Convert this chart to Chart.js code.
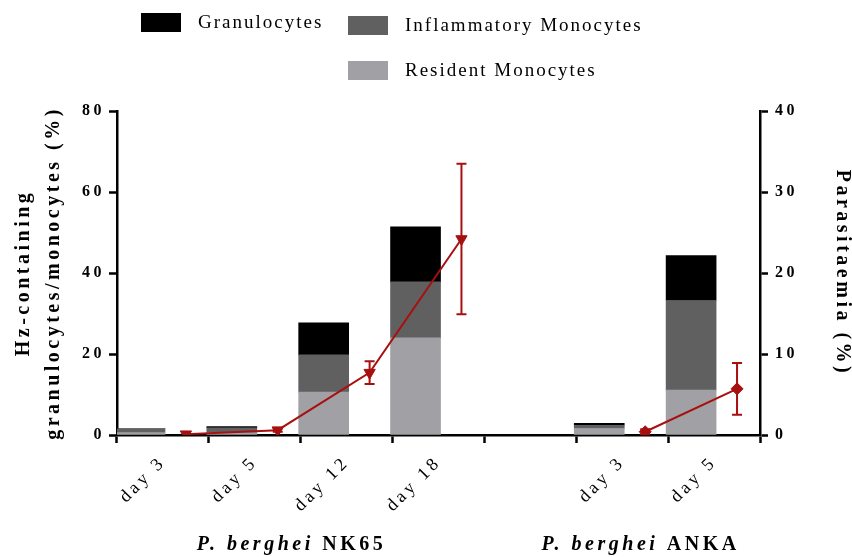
<!DOCTYPE html>
<html>
<head>
<meta charset="utf-8">
<script src="https://cdn.jsdelivr.net/npm/chart.js@4/dist/chart.umd.min.js"></script>
<style>
  html, body { margin: 0; padding: 0; background: #ffffff; }
  canvas { display: block; }
</style>
</head>
<body>
<canvas id="chart" width="852" height="557"></canvas>
<script>
// Sampling days per strain (index 4 is the spacer between the two strains)
const dayLabels = ['day 3', 'day 5', 'day 12', 'day 18', '', 'day 3', 'day 5'];

// Hz-containing cells, % of granulocytes/monocytes (stacked)
const residentMonocytes     = [0.6, 0.6, 10.6, 24.0, null, 1.6, 11.1];
const inflammatoryMonocytes = [0.9, 1.2,  9.2, 13.8, null, 0.8, 22.1];
const granulocytes          = [0.0, 0.25, 7.9, 13.6, null, 0.5, 11.1];

// Parasitaemia (%) mean and error
const parasitaemia    = [0.1, 0.6, 7.7, 24.2, null, 0.4, 5.7];
const parasitaemiaErr = [0.0, 0.2, 1.4,  9.3, null, 0.3, 3.2];

// Strain groups along the x axis, with the x value each strain name is centred on
const strainNames   = ['NK65', 'ANKA'];
const strainDays    = [[0, 1, 2, 3], [5, 6]];
const strainLabelAt = [1.4, 5.2];

const SERIF = 'Liberation Serif';
const RED = '#a80f0f';
const BAR_SHIFT = 0.25;   // bars sit left of each tick, parasitaemia points to the right

const barPoints = vals => vals.map((v, i) => ({ x: i - BAR_SHIFT, y: v }));
const linePoints = vals => vals.map((v, i) => ({ x: i + BAR_SHIFT, y: v }));
const isAnka = i => strainDays[1].includes(i);

// Wide letter spacing for every canvas text
const spacingPlugin = {
  id: 'spacing',
  beforeUpdate(chart) { chart.ctx.letterSpacing = '3.5px'; },
  beforeDraw(chart) { chart.ctx.letterSpacing = '3.5px'; }
};

// Vertical error bars for the parasitaemia series
const errorBarPlugin = {
  id: 'errorBars',
  afterDatasetsDraw(chart) {
    const idx = chart.data.datasets.findIndex(d => d.type === 'line');
    const meta = chart.getDatasetMeta(idx);
    const y2 = chart.scales.y2;
    const ctx = chart.ctx;
    ctx.save();
    ctx.strokeStyle = RED;
    ctx.lineWidth = 2;
    meta.data.forEach((pt, i) => {
      const v = parasitaemia[i], e = parasitaemiaErr[i];
      if (v == null || !e) return;
      const top = y2.getPixelForValue(v + e);
      const bot = y2.getPixelForValue(v - e);
      ctx.beginPath();
      ctx.moveTo(pt.x, top); ctx.lineTo(pt.x, bot);
      ctx.moveTo(pt.x - 5, top); ctx.lineTo(pt.x + 5, top);
      ctx.moveTo(pt.x - 5, bot); ctx.lineTo(pt.x + 5, bot);
      ctx.stroke();
    });
    ctx.restore();
  }
};

// Legend laid out as a two-column grid above the plot
const legendPlugin = {
  id: 'gridLegend',
  afterDraw(chart) {
    const items = [
      { ds: 2, x: 141, y: 13 },
      { ds: 1, x: 348, y: 16 },
      { ds: 0, x: 348, y: 61 }
    ];
    const ctx = chart.ctx;
    ctx.save();
    ctx.letterSpacing = '2px';
    ctx.font = '19px "' + SERIF + '"';
    ctx.textBaseline = 'middle';
    ctx.textAlign = 'left';
    items.forEach(it => {
      const ds = chart.data.datasets[it.ds];
      ctx.fillStyle = ds.backgroundColor;
      ctx.fillRect(it.x, it.y, 40, 19);
      ctx.fillStyle = '#000';
      ctx.fillText(ds.label, it.x + 57, it.y + 10);
    });
    ctx.restore();
  }
};

// Strain names under the day labels
const strainPlugin = {
  id: 'strainLabels',
  afterDraw(chart) {
    const x = chart.scales.x;
    const ctx = chart.ctx;
    ctx.save();
    ctx.letterSpacing = '3.5px';
    ctx.textBaseline = 'alphabetic';
    ctx.textAlign = 'left';
    ctx.fillStyle = '#000';
    const italic = 'italic bold 20px "' + SERIF + '"';
    const bold = 'bold 20px "' + SERIF + '"';
    strainNames.forEach((name, g) => {
      const cx = x.getPixelForValue(strainLabelAt[g]);
      const p1 = 'P. berghei ';
      ctx.font = italic; const w1 = ctx.measureText(p1).width;
      ctx.font = bold; const w2 = ctx.measureText(name).width;
      const sx = cx - (w1 + w2) / 2;
      ctx.font = italic; ctx.fillText(p1, sx, 550);
      ctx.font = bold; ctx.fillText(name, sx + w1, 550);
    });
    ctx.restore();
  }
};

const axisLine = { color: '#000', width: 2.5 };
const axisGrid = { drawOnChartArea: false, drawTicks: true, tickLength: 8, tickWidth: 2.5, tickColor: '#000' };

new Chart(document.getElementById('chart'), {
  type: 'bar',
  data: {
    datasets: [
      { label: 'Resident Monocytes', data: barPoints(residentMonocytes), backgroundColor: '#a1a0a5', stack: 'cells', yAxisID: 'y', order: 1, barThickness: 50 },
      { label: 'Inflammatory Monocytes', data: barPoints(inflammatoryMonocytes), backgroundColor: '#606060', stack: 'cells', yAxisID: 'y', order: 1, barThickness: 50 },
      { label: 'Granulocytes', data: barPoints(granulocytes), backgroundColor: '#000000', stack: 'cells', yAxisID: 'y', order: 1, barThickness: 50 },
      {
        type: 'line', label: 'Parasitaemia', data: linePoints(parasitaemia), yAxisID: 'y2', order: 0,
        borderColor: RED, borderWidth: 2, backgroundColor: RED, fill: false, tension: 0, spanGaps: false,
        pointStyle: dayLabels.map((_, i) => isAnka(i) ? 'rectRot' : 'triangle'),
        pointRotation: dayLabels.map((_, i) => isAnka(i) ? 0 : 180),
        pointRadius: dayLabels.map((_, i) => isAnka(i) ? 6 : 6.5),
        pointBackgroundColor: RED, pointBorderColor: RED, pointBorderWidth: 1
      }
    ]
  },
  options: {
    responsive: false,
    animation: false,
    devicePixelRatio: 1,
    layout: { padding: { top: 111, left: 0, right: 0, bottom: 0 } },
    plugins: { legend: { display: false }, tooltip: { enabled: false }, title: { display: false } },
    scales: {
      x: {
        type: 'linear', min: -0.5, max: 6.5, offset: false,
        afterBuildTicks: s => { s.ticks = dayLabels.map((_, i) => ({ value: i })); },
        afterFit: s => { s.height = 122; },
        grid: axisGrid, border: axisLine,
        ticks: {
          autoSkip: false, minRotation: 45, maxRotation: 45, padding: 9, color: '#000',
          font: { family: SERIF, size: 18 },
          callback: v => dayLabels[v] ?? ''
        }
      },
      y: {
        position: 'left', min: 0, max: 80, stacked: true,
        afterFit: s => { s.width = 117; },
        grid: axisGrid, border: axisLine,
        ticks: { stepSize: 20, padding: 4, color: '#000', font: { family: SERIF, size: 16, weight: 'bold' } },
        title: {
          display: true, text: ['Hz-containing', 'granulocytes/monocytes (%)'], color: '#000',
          font: { family: SERIF, size: 20, weight: 'bold', lineHeight: 1.5 }, padding: { top: 9, bottom: 0 }
        }
      },
      y2: {
        position: 'right', min: 0, max: 40,
        afterFit: s => { s.width = 92; },
        grid: axisGrid, border: axisLine,
        ticks: { stepSize: 10, padding: 7, color: '#000', font: { family: SERIF, size: 16, weight: 'bold' } },
        title: {
          display: true, text: 'Parasitaemia (%)', color: '#000',
          font: { family: SERIF, size: 20, weight: 'bold', lineHeight: 1 }, padding: { top: 0, bottom: 0 }
        }
      }
    }
  },
  plugins: [spacingPlugin, errorBarPlugin, legendPlugin, strainPlugin]
});
</script>
</body>
</html>
